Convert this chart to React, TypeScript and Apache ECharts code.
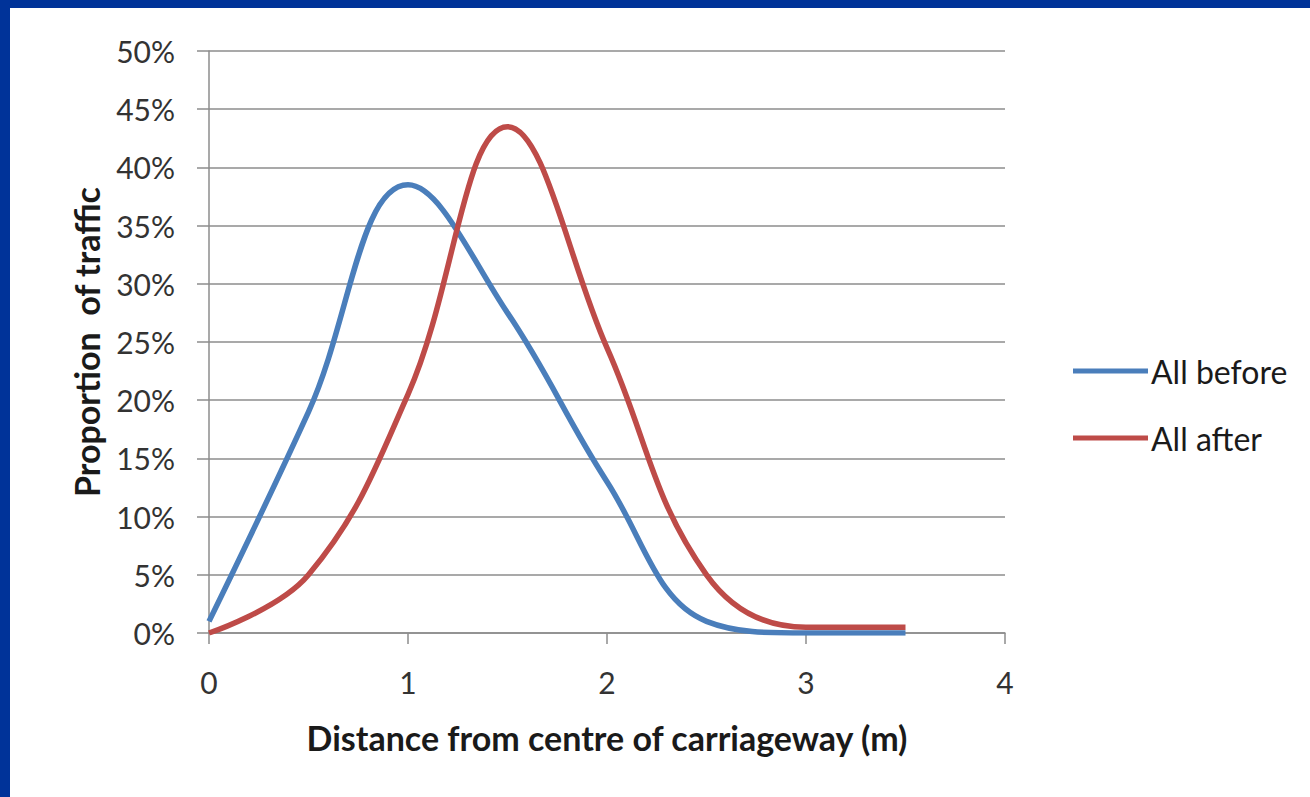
import React, { useEffect, useRef } from "react";
import * as echarts from "echarts";

const distances = [0, 0.5, 1, 1.5, 2, 2.5, 3, 3.5];
const allBefore = [1, 19, 38.5, 27.5, 13, 1, 0, 0];
const allAfter = [0, 5, 20.5, 43.5, 24.5, 5, 0.5, 0.5];
const seriesNames = ["All before", "All after"];
const seriesColors = ["#4a7ebb", "#be4b48"];

export default function App() {
  const ref = useRef<HTMLDivElement>(null);
  useEffect(() => {
    if (!ref.current) return;
    const chart = echarts.init(ref.current, null, { renderer: "svg" });
    const font = "Lato, 'Open Sans', sans-serif";
    chart.setOption({
      animation: false,
      backgroundColor: "#ffffff",
      textStyle: { fontFamily: font },
      graphic: [
        { type: "rect", left: 0, top: 0, shape: { width: 1310, height: 8 }, style: { fill: "#003399" } },
        { type: "rect", left: 0, top: 0, shape: { width: 10, height: 797 }, style: { fill: "#003399" } },
      ],
      grid: { left: 209, right: 305, top: 51, bottom: 164 },
      legend: {
        orient: "vertical",
        left: 1068,
        top: 350,
        itemWidth: 75,
        itemHeight: 5,
        itemGap: 35,
        icon: "rect",
        textStyle: { fontSize: 32, color: "#1a1a1a", fontFamily: font, padding: [0, 0, 0, -2] },
        data: seriesNames,
      },
      xAxis: {
        type: "value",
        min: 0,
        max: 4,
        interval: 1,
        name: "Distance from centre of carriageway (m)",
        nameLocation: "middle",
        nameGap: 87,
        nameTextStyle: { fontSize: 34, fontWeight: "bold", color: "#1a1a1a", fontFamily: font },
        axisLine: { show: true, lineStyle: { color: "#8c8c8c", width: 1.5 } },
        axisTick: { show: true, length: 11, lineStyle: { color: "#8c8c8c", width: 1.5 } },
        axisLabel: { fontSize: 30, color: "#333333", margin: 34, fontFamily: font },
        splitLine: { show: false },
      },
      yAxis: {
        type: "value",
        min: 0,
        max: 50,
        interval: 5,
        name: "Proportion  of traffic",
        nameLocation: "middle",
        nameGap: 106,
        nameTextStyle: { fontSize: 34, fontWeight: "bold", color: "#1a1a1a", fontFamily: font },
        axisLine: { show: true, lineStyle: { color: "#8c8c8c", width: 1.5 } },
        axisTick: { show: true, length: 12, lineStyle: { color: "#8c8c8c", width: 1.5 } },
        axisLabel: { fontSize: 30, color: "#333333", margin: 34, formatter: "{value}%", fontFamily: font },
        splitLine: { show: true, lineStyle: { color: "#8c8c8c", width: 1.5 } },
      },
      series: [
        {
          name: seriesNames[0],
          type: "line",
          smooth: 0.4,
          showSymbol: false,
          symbol: "none",
          lineStyle: { width: 5.5, color: seriesColors[0] },
          itemStyle: { color: seriesColors[0] },
          data: distances.map((d, i) => [d, allBefore[i]]),
        },
        {
          name: seriesNames[1],
          type: "line",
          smooth: 0.4,
          showSymbol: false,
          symbol: "none",
          lineStyle: { width: 5.5, color: seriesColors[1] },
          itemStyle: { color: seriesColors[1] },
          data: distances.map((d, i) => [d, allAfter[i]]),
        },
      ],
    });
    return () => chart.dispose();
  }, []);
  return (
    <div
      ref={ref}
      style={{ position: "fixed", left: 0, top: 0, width: 1310, height: 797 }}
    />
  );
}
